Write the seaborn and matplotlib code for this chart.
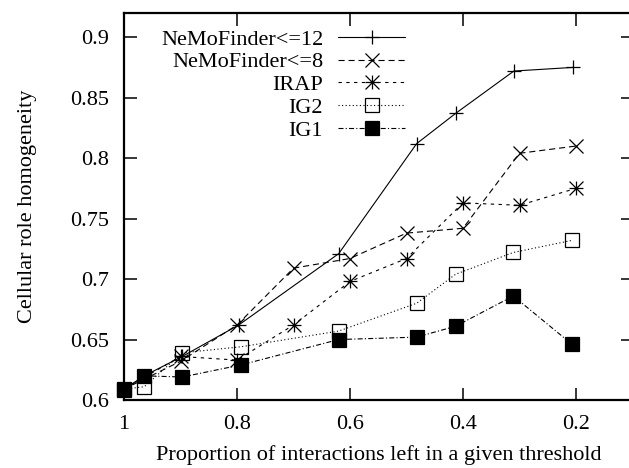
import matplotlib
matplotlib.use("Agg")
import matplotlib.pyplot as plt
from matplotlib.path import Path
import seaborn as sns
import pandas as pd

# Proportion of interactions kept at each threshold
x_nemo12 = [1.0, 0.964, 0.897, 0.797, 0.62, 0.482, 0.413, 0.31, 0.206]
y_nemo12 = [0.609, 0.620, 0.636, 0.662, 0.721, 0.812, 0.837, 0.872, 0.875]

x_nemo8 = [1.0, 0.9, 0.8, 0.7, 0.6, 0.5, 0.4, 0.3, 0.2]
y_nemo8 = [0.609, 0.632, 0.662, 0.709, 0.717, 0.738, 0.742, 0.804, 0.810]

x_irap = [1.0, 0.9, 0.8, 0.7, 0.6, 0.5, 0.4, 0.3, 0.2]
y_irap = [0.609, 0.636, 0.633, 0.662, 0.698, 0.717, 0.763, 0.761, 0.775]

x_ig2 = [1.0, 0.964, 0.897, 0.793, 0.62, 0.482, 0.413, 0.311, 0.207]
y_ig2 = [0.609, 0.611, 0.639, 0.644, 0.657, 0.680, 0.704, 0.722, 0.732]

x_ig1 = [1.0, 0.964, 0.897, 0.793, 0.62, 0.482, 0.413, 0.311, 0.207]
y_ig1 = [0.608, 0.620, 0.619, 0.629, 0.650, 0.652, 0.661, 0.686, 0.646]

series_names = ["NeMoFinder<=12", "NeMoFinder<=8", "IRAP", "IG2", "IG1"]

x_ticks = [1.0, 0.8, 0.6, 0.4, 0.2]
x_tick_labels = ["1", "0.8", "0.6", "0.4", "0.2"]
y_ticks = [0.6, 0.65, 0.7, 0.75, 0.8, 0.85, 0.9]
y_tick_labels = ["0.6", "0.65", "0.7", "0.75", "0.8", "0.85", "0.9"]

sns.set_theme(style="white")
plt.rcParams["font.family"] = ["Liberation Serif", "DejaVu Serif"]
plt.rcParams["mathtext.default"] = "regular"

# gnuplot-like star: a plus overlaid with a cross
star_path = Path(
    [(-1, 0), (1, 0), (0, -1), (0, 1), (-1, -1), (1, 1), (-1, 1), (1, -1)],
    [Path.MOVETO, Path.LINETO] * 4,
)

styles = {
    "NeMoFinder<=12": dict(marker="+", linestyle="-", mfc="black"),
    "NeMoFinder<=8": dict(marker="x", linestyle=(0, (5.5, 3.5)), mfc="black"),
    "IRAP": dict(marker=star_path, linestyle=(0, (3, 4)), mfc="black"),
    "IG2": dict(marker="s", linestyle=(0, (1, 2.2)), mfc="none"),
    "IG1": dict(marker="s", linestyle=(0, (4.5, 2, 1, 2)), mfc="black"),
}

data = {
    "NeMoFinder<=12": (x_nemo12, y_nemo12),
    "NeMoFinder<=8": (x_nemo8, y_nemo8),
    "IRAP": (x_irap, y_irap),
    "IG2": (x_ig2, y_ig2),
    "IG1": (x_ig1, y_ig1),
}

W, H = 629, 468
fig = plt.figure(figsize=(W / 100, H / 100), dpi=100)
ax = fig.add_axes([124 / W, 1 - 400 / H, (632.5 - 124) / W, (400 - 13) / H])

for name in series_names:
    xs, ys = data[name]
    df = pd.DataFrame({"x": xs, "y": ys})
    st = styles[name]
    sns.lineplot(
        data=df, x="x", y="y", ax=ax, sort=False, estimator=None,
        color="black", linewidth=0.8, linestyle=st["linestyle"],
        marker=st["marker"], markersize=10, markeredgewidth=0.9,
        markeredgecolor="black", markerfacecolor=st["mfc"],
        label=name, clip_on=False,
    )

ax.set_xlim(1.0, 0.1)
ax.set_ylim(0.6, 0.92)
ax.set_xticks(x_ticks)
ax.set_xticklabels(x_tick_labels)
ax.set_yticks(y_ticks)
ax.set_yticklabels(y_tick_labels)
ax.minorticks_off()

ax.tick_params(axis="both", which="major", direction="in", length=9, width=1.1,
               labelsize=16, pad=10.5, colors="black",
               top=True, right=True, bottom=True, left=True)
for sp in ax.spines.values():
    sp.set_visible(True)
    sp.set_color("black")
    sp.set_linewidth(1.6)

ax.set_xlabel("Proportion of interactions left in a given threshold",
              fontsize=16, color="black", labelpad=8.5)
ax.set_ylabel("Cellular role homogeneity", fontsize=16, color="black", labelpad=24)
ax.grid(False)
ax.set_facecolor("white")

leg = ax.legend(
    loc="upper right", bbox_to_anchor=(405 / W, 1 - 29 / H),
    bbox_transform=fig.transFigure, frameon=False, markerfirst=False,
    fontsize=16, handlelength=3.0, handletextpad=0.68, labelspacing=0.1,
    borderpad=0, borderaxespad=0,
)
for t in leg.get_texts():
    t.set_color("black")

fig.savefig("out.png", dpi=100, facecolor="white")
